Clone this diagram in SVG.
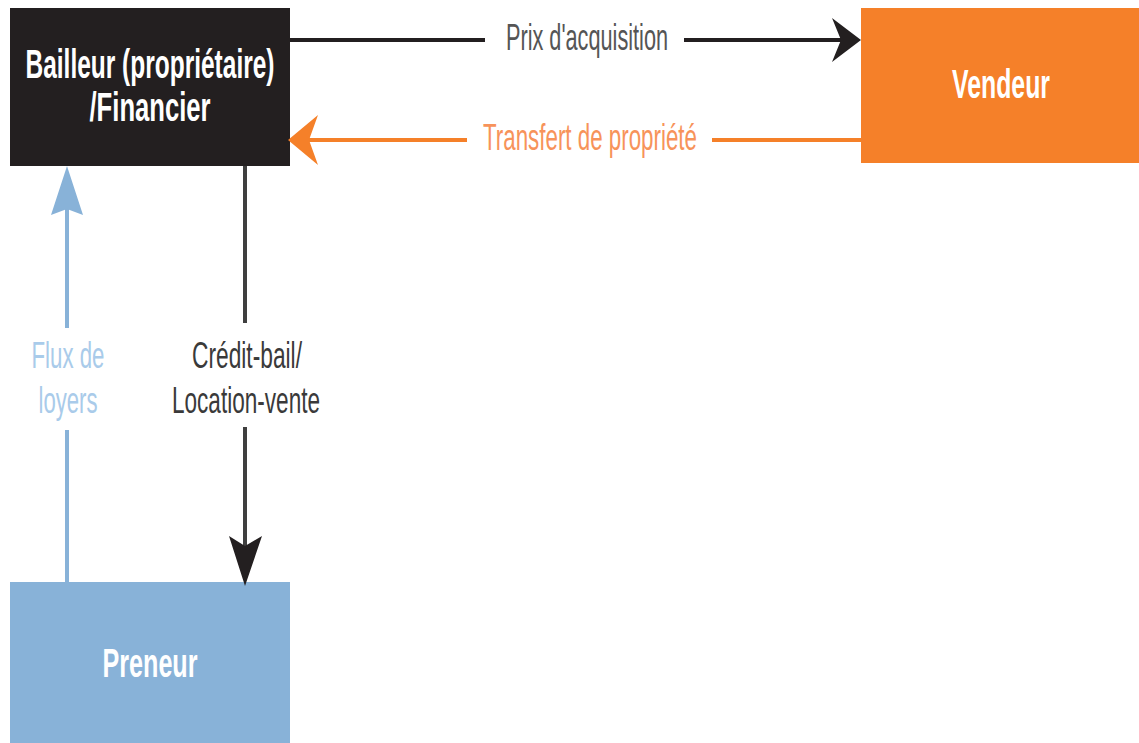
<svg xmlns="http://www.w3.org/2000/svg" width="1139" height="743" viewBox="0 0 1139 743">
<style>
.lbl{font-family:"Liberation Sans",Arial,sans-serif;font-size:36px;text-anchor:middle}
.node{font-family:"Liberation Sans",Arial,sans-serif;font-size:40px;font-weight:bold;fill:#ffffff;text-anchor:middle}
.ln{fill:none;stroke-width:4}
</style>
<rect width="1139" height="743" fill="#ffffff"/>
<g id="bailleur">
<rect x="10" y="8" width="280" height="158" fill="#231f20"/>
<text class="node" x="150" y="78" textLength="249" lengthAdjust="spacingAndGlyphs">Bailleur (propriétaire)</text>
<text class="node" x="150" y="121" textLength="121" lengthAdjust="spacingAndGlyphs">/Financier</text>
</g>
<g id="vendeur">
<rect x="861" y="8" width="278" height="155" fill="#f58029"/>
<text class="node" x="1001" y="98" textLength="98" lengthAdjust="spacingAndGlyphs">Vendeur</text>
</g>
<g id="preneur">
<rect x="10" y="582" width="280" height="161" fill="#88b2d8"/>
<text class="node" x="150" y="677" font-size="42" textLength="95" lengthAdjust="spacingAndGlyphs">Preneur</text>
</g>
<g id="connectors">
<path class="ln" d="M290 40H485M684 40H845" stroke="#231f20"/>
<path d="M861 40L832 18L841 40L832 62Z" fill="#231f20"/>
<text class="lbl" x="587" y="50" fill="#555555" textLength="162" lengthAdjust="spacingAndGlyphs">Prix d'acquisition</text>
<path class="ln" d="M861 140H712M467 140H305" stroke="#f58029"/>
<path d="M288 140L318 115L309 140L318 165Z" fill="#f58029"/>
<text class="lbl" x="590" y="150" fill="#f7935a" textLength="214" lengthAdjust="spacingAndGlyphs">Transfert de propriété</text>
<path class="ln" d="M245 166V323M245 427V570" stroke="#3f3f3f"/>
<path d="M245 586L229 536L245 546L262 536Z" fill="#231f20"/>
<text class="lbl" x="247" y="368" fill="#3a3a3a" textLength="110" lengthAdjust="spacingAndGlyphs">Crédit-bail/</text>
<text class="lbl" x="246" y="413" fill="#3a3a3a" textLength="148" lengthAdjust="spacingAndGlyphs">Location-vente</text>
<path class="ln" d="M67 582V430M67 328V190" stroke="#88b2d8"/>
<path d="M67 166L51 215L67 209L83 215Z" fill="#88b2d8"/>
<text class="lbl" x="68" y="368" fill="#a9cbea" textLength="73" lengthAdjust="spacingAndGlyphs">Flux de</text>
<text class="lbl" x="68" y="413" fill="#a9cbea" textLength="59" lengthAdjust="spacingAndGlyphs">loyers</text>
</g>
</svg>
